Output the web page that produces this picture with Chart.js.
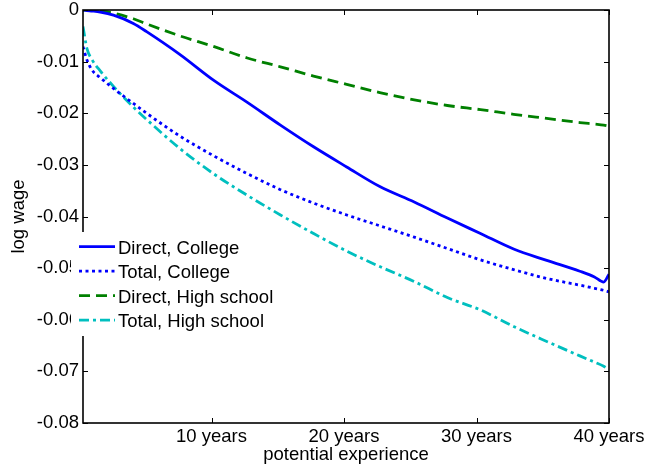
<!DOCTYPE html>
<html>
<head>
<meta charset="utf-8">
<script src="https://cdn.jsdelivr.net/npm/chart.js@4.4.1/dist/chart.umd.min.js"></script>
<style>
  html, body { margin: 0; padding: 0; background: #fff; }
  canvas { display: block; }
</style>
</head>
<body>
<canvas id="chart" width="645" height="471"></canvas>
<script>
// Potential experience (years) at which each profile is evaluated
const experienceYears = [0.3, 0.6, 1, 1.6, 2.6, 4.1, 5.1, 7.6, 10.2, 12.7, 15.2, 17.7, 20.2, 22.7, 25.3, 27.8, 30.3, 32.8, 35.3, 37.8, 38.9, 39.6, 40];

// Log wage effects
const directCollege    = [0, -0.0001, -0.0002, -0.0004, -0.0010, -0.0026, -0.0042, -0.0086, -0.0137, -0.0179, -0.0223, -0.0265, -0.0304, -0.0342, -0.0372, -0.0403, -0.0433, -0.0463, -0.0485, -0.0506, -0.0517, -0.0527, -0.0512];
const totalCollege     = [-0.0071, -0.0097, -0.0117, -0.0131, -0.0152, -0.0181, -0.0200, -0.0244, -0.0283, -0.0317, -0.0348, -0.0374, -0.0397, -0.0418, -0.0440, -0.0462, -0.0484, -0.0503, -0.0520, -0.0533, -0.0539, -0.0543, -0.0546];
const directHighSchool = [0, 0, -0.0001, -0.0002, -0.0006, -0.0017, -0.0027, -0.0050, -0.0071, -0.0093, -0.0110, -0.0128, -0.0144, -0.0160, -0.0174, -0.0185, -0.0193, -0.0202, -0.0210, -0.0218, -0.0221, -0.0223, -0.0225];
const totalHighSchool  = [-0.0032, -0.0075, -0.0097, -0.0118, -0.0148, -0.0188, -0.0212, -0.0268, -0.0318, -0.0359, -0.0397, -0.0433, -0.0467, -0.0497, -0.0526, -0.0557, -0.0581, -0.0613, -0.0642, -0.0670, -0.0682, -0.0690, -0.0697];

const seriesNames = ['Direct, College', 'Total, College', 'Direct, High school', 'Total, High school'];

const xTickValues = [10, 20, 30, 40];
const xTickLabels = ['10 years', '20 years', '30 years', '40 years'];
const yTickValues = [0, -0.01, -0.02, -0.03, -0.04, -0.05, -0.06, -0.07, -0.08];
const yTickLabels = ['0', '-0.01', '-0.02', '-0.03', '-0.04', '-0.05', '-0.06', '-0.07', '-0.08'];

const FONT = "'Liberation Sans', Arial, Helvetica, sans-serif";
const FONT_SIZE = 18.5;

function toPoints(values) {
  return values.map((v, i) => ({ x: experienceYears[i], y: v }));
}

const styles = [
  { color: '#0000ff', dash: [] },
  { color: '#0000ff', dash: [3, 3.5] },
  { color: '#008000', dash: [11, 6] },
  { color: '#00bfbf', dash: [10, 4, 3, 4] }
];
const seriesValues = [directCollege, totalCollege, directHighSchool, totalHighSchool];

const datasets = seriesValues.map((vals, i) => ({
  label: seriesNames[i],
  data: toPoints(vals),
  borderColor: styles[i].color,
  backgroundColor: styles[i].color,
  borderDash: styles[i].dash,
  borderWidth: 2.8,
  borderCapStyle: 'butt',
  pointRadius: 0,
  cubicInterpolationMode: 'monotone',
  fill: false
}));

// White page background
const background = {
  id: 'background',
  beforeDraw(chart) {
    const ctx = chart.ctx;
    ctx.save();
    ctx.fillStyle = '#fff';
    ctx.fillRect(0, 0, chart.width, chart.height);
    ctx.restore();
  }
};

// Boxed axes with inward tick marks on all four sides
const axesFrame = {
  id: 'axesFrame',
  afterDatasetsDraw(chart) {
    const { ctx, chartArea: a, scales } = chart;
    const L = 5;
    ctx.save();
    ctx.strokeStyle = '#000';
    ctx.lineWidth = 1;
    ctx.beginPath();
    scales.x.ticks.forEach(t => {
      const px = Math.round(scales.x.getPixelForValue(t.value)) + 0.5;
      ctx.moveTo(px, a.bottom); ctx.lineTo(px, a.bottom - L);
      ctx.moveTo(px, a.top); ctx.lineTo(px, a.top + L);
    });
    scales.y.ticks.forEach(t => {
      const py = Math.round(scales.y.getPixelForValue(t.value)) + 0.5;
      ctx.moveTo(a.left, py); ctx.lineTo(a.left + L, py);
      ctx.moveTo(a.right, py); ctx.lineTo(a.right - L, py);
    });
    ctx.stroke();
    ctx.lineWidth = 1.6;
    ctx.strokeRect(a.left, a.top, a.right - a.left, a.bottom - a.top);
    ctx.restore();
  }
};

// Legend box placed inside the axes, lower left
const insideLegend = {
  id: 'insideLegend',
  afterDraw(chart) {
    const { ctx, chartArea: a } = chart;
    const boxLeft = a.left - 12;
    const boxTop = a.top + 222;
    const rowGap = 24.5;
    const firstRow = boxTop + 14.7;
    ctx.save();
    ctx.fillStyle = '#fff';
    ctx.fillRect(boxLeft, boxTop, 218, 104);
    chart.data.datasets.forEach((ds, i) => {
      const cy = firstRow + i * rowGap;
      ctx.beginPath();
      ctx.strokeStyle = ds.borderColor;
      ctx.lineWidth = ds.borderWidth;
      ctx.lineCap = 'butt';
      ctx.setLineDash(ds.borderDash);
      ctx.moveTo(a.left - 4, cy);
      ctx.lineTo(a.left + 32, cy);
      ctx.stroke();
      ctx.setLineDash([]);
      ctx.fillStyle = '#000';
      ctx.font = FONT_SIZE + 'px ' + FONT;
      ctx.textAlign = 'left';
      ctx.textBaseline = 'alphabetic';
      ctx.fillText(ds.label, a.left + 35, cy + 6.8);
    });
    ctx.restore();
  }
};

new Chart(document.getElementById('chart'), {
  type: 'line',
  data: { datasets },
  options: {
    responsive: false,
    devicePixelRatio: 1,
    animation: false,
    layout: { padding: { top: 10, right: 36, bottom: 0, left: 0 } },
    plugins: {
      legend: { display: false },
      tooltip: { enabled: false }
    },
    scales: {
      x: {
        type: 'linear',
        min: 0.3,
        max: 40,
        grid: { display: false, drawTicks: false },
        border: { display: false },
        afterBuildTicks: s => { s.ticks = xTickValues.map(v => ({ value: v })); },
        afterFit: s => { s.height = 48; s.paddingLeft = 0; s.paddingRight = 0; },
        ticks: {
          padding: 4.5,
          maxRotation: 0,
          autoSkip: false,
          color: '#000',
          font: { family: FONT, size: FONT_SIZE, lineHeight: 1 },
          callback: v => xTickLabels[xTickValues.indexOf(v)]
        },
        title: {
          display: true,
          text: 'potential experience',
          color: '#000',
          font: { family: FONT, size: FONT_SIZE, lineHeight: 1.2 },
          padding: { top: 0, bottom: 5 }
        }
      },
      y: {
        type: 'linear',
        min: -0.08,
        max: 0,
        grid: { display: false, drawTicks: false },
        border: { display: false },
        afterBuildTicks: s => { s.ticks = yTickValues.map(v => ({ value: v })); },
        afterFit: s => { s.width = 83; s.paddingTop = 0; s.paddingBottom = 0; },
        ticks: {
          padding: 4,
          autoSkip: false,
          color: '#000',
          font: { family: FONT, size: FONT_SIZE, lineHeight: 1 },
          callback: v => yTickLabels[yTickValues.indexOf(v)]
        },
        title: {
          display: true,
          text: 'log wage',
          color: '#000',
          font: { family: FONT, size: FONT_SIZE, lineHeight: 1.2 },
          padding: { top: 8, bottom: 0 }
        }
      }
    }
  },
  plugins: [background, axesFrame, insideLegend]
});
</script>
</body>
</html>
